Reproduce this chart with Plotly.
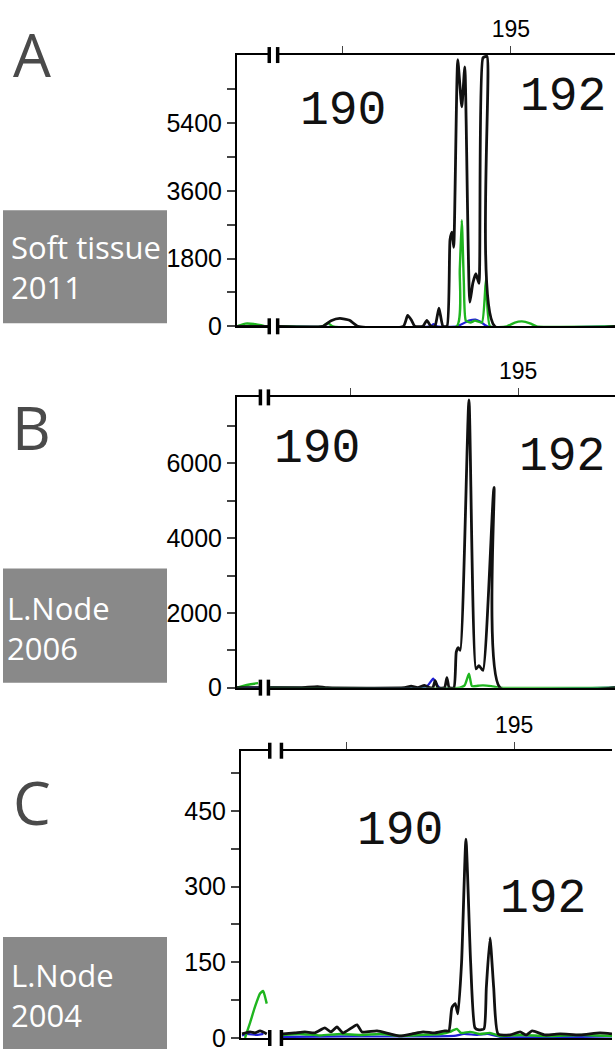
import plotly.graph_objects as go

W, H = 615, 1050      # reference size: all pixel positions below are in this frame
FIG_H = 1065          # page height actually captured, so paper fractions land right

# ---- data (traces) ----
# panel A: soft tissue 2011
a_black_x = [186.85, 187.78, None, 188.10, 189.40, 189.65, 189.91, 190.20, 190.45, 191.80, 191.93,
             192.05, 192.14, 192.38, 192.50, 192.62, 192.74, 192.86, 192.98, 193.10, 193.19, 193.25,
             193.30, 193.42, 193.54, 193.63, 193.78, 193.87, 193.96, 194.05, 194.17, 194.29, 194.52, 198.10]
a_black_y = [0, 0, None, 0, 0, 150, 210, 160, 0, 0, 290,
             150, 0, 0, 160, 0, 0, 480, 0, 0, 2300, 2500,
             2100, 7080, 5830, 6890, 640, 1150, 1400, 1140, 7130, 7170, 0, 0]
a_green_x = [186.85, 187.10, 187.35, 187.70, None, 188.10, 189.40, 189.55, 189.70, 193.39, 193.48,
             193.54, 193.60, 193.66, 193.80, 193.93, 194.14, 194.26, 194.38, 194.88, 195.12, 195.33,
             195.57, 195.77, 198.10]
a_green_y = [0, 70, 60, 0, None, 0, 0, 90, 0, 0, 1500,
             2820, 1200, 150, 100, 150, 100, 1250, 0, 0, 100, 130,
             80, 0, 0]
a_blue_x = [186.85, 187.78, None, 188.10, 192.60, 192.70, 192.80, 193.40, 193.75, 193.95, 194.10, 194.30, 198.10]
a_blue_y = [0, 0, None, 0, 0, 60, 0, 0, 150, 180, 120, 0, 0]

# panel B: L.Node 2006
b_black_x = [186.59, 187.25, None, 187.58, 188.50, 189.00, 189.30, 191.60, 191.80, 192.00, 192.20,
             192.35, 192.45, 192.52, 192.60, 192.80, 192.87, 192.94, 193.08, 193.15, 193.21, 193.27,
             193.53, 193.74, 193.83, 193.95, 194.28, 194.46, 197.90]
b_black_y = [0, 0, None, 0, 0, 30, 0, 0, 40, 0, 60,
             0, 0, 190, 0, 0, 270, 0, 0, 950, 1070, 1000,
             7700, 500, 590, 460, 5355, 0, 0]
b_green_x = [186.59, 186.75, 187.00, 187.22, None, 187.58, 193.26, 193.40, 193.53, 193.62, 193.80,
             193.95, 194.20, 194.46, 197.90]
b_green_y = [0, 40, 90, 120, None, 0, 0, 60, 370, 40, 50,
             60, 40, 0, 0]
b_blue_x = [186.59, 187.25, None, 187.58, 192.10, 192.30, 192.46, 192.55, 192.65, 197.90]
b_blue_y = [0, 0, None, 0, 0, 60, 240, 120, 0, 0]

# panel C: L.Node 2004
c_black_x = [186.86, 187.10, 187.25, 187.40, 187.60, None, 188.08, 188.44, 188.74, 189.04, 189.34,
             189.52, 189.70, 189.88, 190.30, 190.45, 190.90, 191.29, 191.59, 191.95, 192.28, 192.63,
             192.93, 193.05, 193.14, 193.24, 193.32, 193.43, 193.56, 193.70, 193.83, 193.95, 194.10,
             194.17, 194.28, 194.39, 194.52, 194.88, 195.18, 195.36, 195.54, 195.93, 196.38, 196.98,
             197.57, 197.93]
c_black_y = [8, 12, 10, 14, 8, None, 8, 10, 12, 10, 20,
             12, 22, 10, 26, 12, 14, 8, 4, 8, 12, 10,
             14, 14, 60, 68, 48, 150, 394, 150, 20, 16, 18,
             100, 198, 100, 8, 6, 12, 6, 14, 6, 8, 6,
             10, 8]
c_green_x = [186.95, 187.10, 187.25, 187.40, 187.49, 187.54, 187.60, None, 188.08, 188.60, 189.20,
             189.80, 190.40, 191.00, 191.60, 192.20, 192.80, 193.08, 193.20, 193.29, 193.41, 193.68,
             193.98, 194.28, 194.58, 195.20, 196.00, 197.00, 197.93]
c_green_y = [0, 30, 62, 88, 93, 84, 68, None, 6, 8, 5,
             8, 6, 8, 4, 6, 8, 12, 16, 18, 10, 12,
             8, 10, 4, 6, 4, 6, 4]
c_blue_x = [186.86, 187.00, 187.30, 187.50, None, 188.08, 190.00, 193.20, 193.50, 193.90, 194.20, 194.60, 197.93]
c_blue_y = [5, 8, 6, 8, None, 2, 3, 4, 8, 6, 8, 2, 3]

# axis ticks
x_tickvals = [190, 195]
x_ticktext = ["", "195"]
a_ytickvals = [0, 900, 1800, 2700, 3600, 4500, 5400, 6300]
a_yticktext = ["0", "", "1800", "", "3600", "", "5400", ""]
b_ytickvals = [0, 1000, 2000, 3000, 4000, 5000, 6000, 7000]
b_yticktext = ["0", "", "2000", "", "4000", "", "6000", ""]
c_ytickvals = [0, 75, 150, 225, 300, 375, 450, 525]
c_yticktext = ["0", "", "150", "", "300", "", "450", ""]

panel_letters = ["A", "B", "C"]
sample_labels = ["Soft tissue<br>2011", "L.Node<br>2006", "L.Node<br>2004"]
allele_labels = ["190", "192"]

# ---- layout geometry (pixels) ----
panels = [
    dict(black=(a_black_x, a_black_y), green=(a_green_x, a_green_y), blue=(a_blue_x, a_blue_y),
         left=237, right=615, top=55, bottom=326, xr=[186.85, 198.10], yr=[0, 7205],
         ytv=a_ytickvals, ytt=a_yticktext, brk=(187.81, 188.06),
         letter=(32, 54), box=(3, 167, 210, 323), boxtext=(9, 267),
         a190=(343, 111), a192=(563, 97)),
    dict(black=(b_black_x, b_black_y), green=(b_green_x, b_green_y), blue=(b_blue_x, b_blue_y),
         left=237, right=615, top=397, bottom=687, xr=[186.59, 197.90], yr=[0, 7765],
         ytv=b_ytickvals, ytt=b_yticktext, brk=(187.29, 187.53),
         letter=(31, 427), box=(3, 167, 568, 682), boxtext=(5, 627),
         a190=(317, 449), a192=(562, 457)),
    dict(black=(c_black_x, c_black_y), green=(c_green_x, c_green_y), blue=(c_blue_x, c_blue_y),
         left=241, right=612, top=750, bottom=1037, xr=[186.83, 197.93], yr=[0, 569],
         ytv=c_ytickvals, ytt=c_yticktext, brk=(187.69, 188.04),
         letter=(32, 801), box=(3, 167, 936, 1048), boxtext=(9, 994),
         a190=(400, 830), a192=(543, 898)),
]


def px(x):
    return x / W


def py(y):
    return 1 - y / H


fig = go.Figure()
shapes = []
annotations = []
layout = {}

for i, p in enumerate(panels):
    n = i + 1
    xa = 'x' if n == 1 else f'x{n}'
    ya = 'y' if n == 1 else f'y{n}'
    for col, key, lw in [('#2020d8', 'blue', 2.2), ('#1fb51f', 'green', 2.4), ('#111111', 'black', 2.8)]:
        xs, ys = p[key]
        fig.add_trace(go.Scatter(x=xs, y=ys, mode='lines', xaxis=xa, yaxis=ya,
                                 line=dict(color=col, width=lw, shape='spline', smoothing=0.5),
                                 showlegend=False, hoverinfo='skip', connectgaps=False))

    xdom = [px(p['left']), px(p['right'])]
    ydom = [py(p['bottom']), py(p['top'])]
    xkey = 'xaxis' if n == 1 else f'xaxis{n}'
    ykey = 'yaxis' if n == 1 else f'yaxis{n}'
    layout[xkey] = dict(domain=xdom, range=p['xr'], anchor=ya, side='top',
                        showline=True, linecolor='black', linewidth=2, mirror=True,
                        showgrid=False, zeroline=False,
                        tickvals=x_tickvals, ticktext=x_ticktext,
                        ticks='outside', ticklen=7, tickwidth=1, tickcolor='#444',
                        tickfont=dict(family='Liberation Sans, Arial', size=23, color='black'))
    layout[ykey] = dict(domain=ydom, range=p['yr'], anchor=xa,
                        showline=True, linecolor='black', linewidth=2,
                        showgrid=False, zeroline=False,
                        tickvals=p['ytv'], ticktext=p['ytt'],
                        ticks='outside', ticklen=8, tickwidth=1.5, tickcolor='#444',
                        tickfont=dict(family='Liberation Sans, Arial', size=25, color='black'))
    # overlay axes so the ticks cross the axis lines
    m = n + 3
    layout[f'xaxis{m}'] = dict(overlaying=xa, range=p['xr'], anchor=ya, side='top',
                               showline=False, showgrid=False, zeroline=False,
                               tickvals=x_tickvals, showticklabels=False,
                               ticks='inside', ticklen=7, tickwidth=1, tickcolor='#444')
    layout[f'yaxis{m}'] = dict(overlaying=ya, range=p['yr'], anchor=xa, side='left',
                               showline=False, showgrid=False, zeroline=False,
                               tickvals=p['ytv'], showticklabels=False,
                               ticks='inside', ticklen=8, tickwidth=1.5, tickcolor='#444')

    # axis break marks on the top and bottom lines
    b0, b1 = p['brk']
    for yanc in (0, 1):
        shapes.append(dict(type='rect', xref=xa, yref=f'{ya} domain', x0=b0, x1=b1,
                           ysizemode='pixel', yanchor=yanc, y0=-3, y1=3,
                           fillcolor='white', line=dict(width=0), layer='above'))
        for bx in (b0, b1):
            shapes.append(dict(type='line', xref=xa, yref=f'{ya} domain', x0=bx, x1=bx,
                               ysizemode='pixel', yanchor=yanc, y0=-8, y1=8,
                               line=dict(color='black', width=3.5), layer='above'))

    # grey sample box
    bx0, bx1, by0, by1 = p['box']
    shapes.append(dict(type='rect', xref='paper', yref='paper', x0=px(bx0), x1=px(bx1),
                       y0=py(by1), y1=py(by0), fillcolor='#898989', line=dict(width=0)))
    annotations.append(dict(text=sample_labels[i], xref='paper', yref='paper',
                            x=px(p['boxtext'][0]), y=py(p['boxtext'][1]),
                            xanchor='left', yanchor='middle', align='left', showarrow=False,
                            font=dict(family='Open Sans', size=31, color='white')))
    annotations.append(dict(text=panel_letters[i], xref='paper', yref='paper',
                            x=px(p['letter'][0]), y=py(p['letter'][1]),
                            xanchor='center', yanchor='middle', showarrow=False,
                            font=dict(family='Open Sans', size=60, color='#4a4a4a')))
    for lab, pos in zip(allele_labels, (p['a190'], p['a192'])):
        annotations.append(dict(text=lab, xref='paper', yref='paper',
                                x=px(pos[0]), y=py(pos[1]),
                                xanchor='center', yanchor='middle', showarrow=False,
                                font=dict(family='Liberation Mono, Courier New, monospace',
                                          size=48, color='#111')))

fig.update_layout(width=W, height=FIG_H, margin=dict(l=0, r=0, t=0, b=0),
                  paper_bgcolor='white', plot_bgcolor='white',
                  shapes=shapes, annotations=annotations, **layout)

page_fix = ("document.body.style.margin='0';document.body.style.fontSize='0';"
            "document.body.style.lineHeight='0';document.body.style.overflow='hidden';")
fig.write_html("out.html", config={'displayModeBar': False}, post_script=page_fix)
